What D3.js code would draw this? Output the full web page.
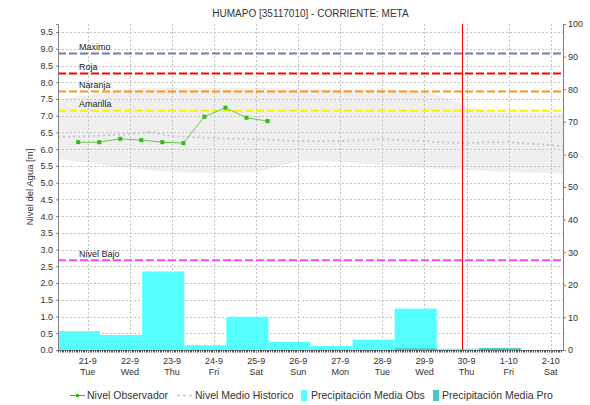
<!DOCTYPE html>
<html>
<head>
<meta charset="utf-8">
<script src="https://cdn.jsdelivr.net/npm/d3@7"></script>
<style>
  body { margin: 0; background: #fff; }
  svg { display: block; font-family: "Liberation Sans", Arial, sans-serif; }
</style>
</head>
<body>
<svg id="chart" width="590" height="405"></svg>
<script>
// ---- data ----
const chartTitle = "HUMAPO [35117010] - CORRIENTE: META";

// day ticks on the time axis
const dayTicks = ["2021-09-21", "2021-09-22", "2021-09-23", "2021-09-24", "2021-09-25", "2021-09-26",
                  "2021-09-27", "2021-09-28", "2021-09-29", "2021-09-30", "2021-10-01", "2021-10-02"];
const dayLabels = ["21-9", "22-9", "23-9", "24-9", "25-9", "26-9", "27-9", "28-9", "29-9", "30-9", "1-10", "2-10"];
const weekdayLabels = ["Tue", "Wed", "Thu", "Fri", "Sat", "Sun", "Mon", "Tue", "Wed", "Thu", "Fri", "Sat"];

// left axis (water level, m) and right axis (precipitation, mm)
const levelTicks = [0.0, 0.5, 1.0, 1.5, 2.0, 2.5, 3.0, 3.5, 4.0, 4.5, 5.0, 5.5, 6.0, 6.5, 7.0, 7.5, 8.0, 8.5, 9.0, 9.5];
const precipTicks = [0, 10, 20, 30, 40, 50, 60, 70, 80, 90, 100];

// observed water level
const obsTimes = ["2021-09-20T18:30", "2021-09-21T06:30", "2021-09-21T18:30", "2021-09-22T06:30", "2021-09-22T18:30",
                  "2021-09-23T06:30", "2021-09-23T18:30", "2021-09-24T06:30", "2021-09-24T18:30", "2021-09-25T06:30"];
const obsLevel = [6.21, 6.21, 6.31, 6.27, 6.21, 6.18, 6.97, 7.24, 6.94, 6.84];

// historic band (max / min) and historic mean level
const histTimes = ["2021-09-20T07:00", "2021-09-21T00:00", "2021-09-22T00:00", "2021-09-22T12:00", "2021-09-23T00:00",
                   "2021-09-24T00:00", "2021-09-25T00:00", "2021-09-25T12:00", "2021-09-26T00:00", "2021-09-26T12:00",
                   "2021-09-27T00:00", "2021-09-28T00:00", "2021-09-28T12:00", "2021-09-29T00:00", "2021-09-29T09:00",
                   "2021-09-30T00:00", "2021-09-30T14:00", "2021-10-01T00:00", "2021-10-02T00:00", "2021-10-02T07:00"];
const histUpper = [7.50, 7.62, 7.80, 7.83, 7.83, 7.83, 7.83, 7.83, 7.80, 7.80,
                   7.80, 7.80, 7.77, 7.71, 7.59, 7.29, 7.11, 7.08, 7.08, 7.08];
const histLower = [5.71, 5.59, 5.44, 5.38, 5.32, 5.29, 5.32, 5.47, 5.65, 5.65,
                   5.62, 5.53, 5.50, 5.44, 5.41, 5.38, 5.35, 5.32, 5.29, 5.26];
const histMean  = [6.36, 6.39, 6.45, 6.51, 6.39, 6.33, 6.30, 6.27, 6.24, 6.24,
                   6.24, 6.30, 6.27, 6.24, 6.21, 6.18, 6.21, 6.21, 6.12, 6.09];

// daily precipitation, each bar covering 07:00 to 07:00 of the next day
const precipStart = ["2021-09-20", "2021-09-21", "2021-09-22", "2021-09-23", "2021-09-24", "2021-09-25",
                     "2021-09-26", "2021-09-27", "2021-09-28", "2021-09-29", "2021-09-30", "2021-10-01"];
const precipObs = [5.8, 4.6, 24.1, 1.5, 10.2, 2.5, 1.2, 3.2, 12.7, 0.4, 0, 0];
const precipPro = [0, 0, 0, 0, 0, 0, 0, 0, 0.5, 0, 0.6, 0];

// alert thresholds (m)
const thresholdNames = ["Maximo", "Roja", "Naranja", "Amarilla", "Nivel Bajo"];
const thresholdLevels = [8.86, 8.26, 7.72, 7.15, 2.68];
const thresholdColors = ["#6e7fae", "#ff0000", "#ff9414", "#f4f400", "#ff44ff"];

const nowMark = "2021-09-29T21:15";
const xStart = "2021-09-20T07:00", xEnd = "2021-10-02T07:00";

const legendNames = ["Nivel Observador", "Nivel Medio Historico", "Precipitación Media Obs", "Precipitación Media Pro"];

// ---- layout ----
const parse = d3.timeParse("%Y-%m-%dT%H:%M");
const parseDay = d3.timeParse("%Y-%m-%d");
const plot = { left: 58, right: 563, top: 24, bottom: 350 };

const x = d3.scaleTime().domain([parse(xStart), parse(xEnd)]).range([plot.left, plot.right]);
const yL = d3.scaleLinear().domain([0, 9.74]).range([plot.bottom, plot.top]);
const yR = d3.scaleLinear().domain([0, 100]).range([plot.bottom, plot.top]);

const svg = d3.select("#chart");
svg.append("rect").attr("width", 590).attr("height", 405).attr("fill", "#fff");

svg.append("defs").append("clipPath").attr("id", "plotclip")
  .append("rect").attr("x", plot.left).attr("y", plot.top)
  .attr("width", plot.right - plot.left).attr("height", plot.bottom - plot.top);

const g = svg.append("g").attr("clip-path", "url(#plotclip)");

// historic band
const hist = histTimes.map((t, i) => ({ t: parse(t), hi: histUpper[i], lo: histLower[i], mean: histMean[i] }));
g.append("path").datum(hist)
  .attr("fill", "#efefef")
  .attr("d", d3.area().x(d => x(d.t)).y0(d => yL(d.lo)).y1(d => yL(d.hi)));

// grid
const grid = g.append("g").attr("stroke", "#c4c4c4").attr("stroke-width", 1).attr("stroke-dasharray", "2,2");
levelTicks.forEach(v => {
  grid.append("line").attr("x1", plot.left).attr("x2", plot.right)
    .attr("y1", Math.round(yL(v)) + 0.5).attr("y2", Math.round(yL(v)) + 0.5);
});
dayTicks.forEach(d => {
  const px = Math.round(x(parseDay(d))) + 0.5;
  grid.append("line").attr("x1", px).attr("x2", px).attr("y1", plot.top).attr("y2", plot.bottom);
});

// historic mean
g.append("path").datum(hist)
  .attr("fill", "none").attr("stroke", "#c8c8c8").attr("stroke-width", 2).attr("stroke-dasharray", "2,3")
  .attr("d", d3.line().x(d => x(d.t)).y(d => yL(d.mean)));

// precipitation bars
const bars = precipStart.map((d, i) => {
  const s = d3.timeHour.offset(parseDay(d), 7);
  return { s, e: d3.timeDay.offset(s, 1), obs: precipObs[i], pro: precipPro[i] };
});
g.selectAll("rect.obs").data(bars.filter(b => b.obs > 0)).join("rect").attr("class", "obs")
  .attr("x", b => x(b.s)).attr("width", b => x(b.e) - x(b.s))
  .attr("y", b => yR(b.obs)).attr("height", b => yR(0) - yR(b.obs))
  .attr("fill", "#55ffff");
g.selectAll("rect.pro").data(bars.filter(b => b.pro > 0)).join("rect").attr("class", "pro")
  .attr("x", b => x(b.s)).attr("width", b => x(b.e) - x(b.s))
  .attr("y", b => yR(b.pro)).attr("height", b => yR(0) - yR(b.pro))
  .attr("fill", "#44c8c8");

// thresholds
thresholdLevels.forEach((v, i) => {
  const py = yL(v);
  g.append("line").attr("x1", plot.left).attr("x2", plot.right).attr("y1", py).attr("y2", py)
    .attr("stroke", thresholdColors[i]).attr("stroke-width", 2).attr("stroke-dasharray", "8,3");
  svg.append("text").attr("x", 79).attr("y", py - 3.5)
    .attr("font-size", 9).attr("fill", "#222").text(thresholdNames[i]);
});

// observed level
const obs = obsTimes.map((t, i) => ({ t: parse(t), v: obsLevel[i] }));
g.append("path").datum(obs)
  .attr("fill", "none").attr("stroke", "#66cc44").attr("stroke-width", 1)
  .attr("d", d3.line().x(d => x(d.t)).y(d => yL(d.v)));
g.selectAll("rect.pt").data(obs).join("rect").attr("class", "pt")
  .attr("x", d => x(d.t) - 2).attr("y", d => yL(d.v) - 2)
  .attr("width", 4).attr("height", 4).attr("fill", "#33bb11");

// current time marker
const nx = Math.round(x(parse(nowMark))) + 0.5;
g.append("line").attr("x1", nx).attr("x2", nx).attr("y1", plot.top).attr("y2", plot.bottom)
  .attr("stroke", "#ff0000").attr("stroke-width", 1);

// ---- axes ----
const axisColor = "#808080";
const leftAxis = svg.append("g").attr("transform", `translate(${plot.left},0)`)
  .call(d3.axisLeft(yL).tickValues(levelTicks).tickFormat(d3.format(".1f")).tickSize(2).tickPadding(3));
const rightAxis = svg.append("g").attr("transform", `translate(${plot.right},0)`)
  .call(d3.axisRight(yR).tickValues(precipTicks).tickFormat(d3.format("d")).tickSize(3).tickPadding(2));
[leftAxis, rightAxis].forEach(a => {
  a.select(".domain").attr("stroke", axisColor);
  a.selectAll(".tick line").attr("stroke", axisColor);
  a.selectAll("text").attr("font-size", 9).attr("fill", "#333").attr("font-family", "Liberation Sans, Arial, sans-serif");
});

// bottom axis with hourly minor ticks
const bottom = svg.append("g");
bottom.append("line").attr("x1", plot.left).attr("x2", plot.right)
  .attr("y1", plot.bottom + 0.5).attr("y2", plot.bottom + 0.5).attr("stroke", axisColor);
const hours = d3.timeHour.every(1).range(parse(xStart), parse(xEnd));
bottom.selectAll("line.minor").data(hours).join("line").attr("class", "minor")
  .attr("x1", d => Math.round(x(d)) + 0.5).attr("x2", d => Math.round(x(d)) + 0.5)
  .attr("y1", plot.bottom).attr("y2", plot.bottom + 2.5).attr("stroke", "#555");
dayTicks.forEach((d, i) => {
  const px = x(parseDay(d));
  bottom.append("line").attr("x1", Math.round(px) + 0.5).attr("x2", Math.round(px) + 0.5)
    .attr("y1", plot.bottom).attr("y2", plot.bottom + 3).attr("stroke", axisColor);
  const t = bottom.append("text").attr("text-anchor", "middle").attr("font-size", 9).attr("fill", "#333");
  t.append("tspan").attr("x", px).attr("y", 363.5).text(dayLabels[i]);
  t.append("tspan").attr("x", px).attr("y", 374.5).text(weekdayLabels[i]);
});

// axis title
svg.append("text").attr("transform", `translate(33,${(plot.top + plot.bottom) / 2}) rotate(-90)`)
  .attr("text-anchor", "middle").attr("font-size", 9.5).attr("fill", "#333").text("Nivel del Agua [m]");

// chart title
svg.append("text").attr("x", (plot.left + plot.right) / 2).attr("y", 17)
  .attr("text-anchor", "middle").attr("font-size", 10).attr("fill", "#333").text(chartTitle);

// ---- legend ----
const leg = svg.append("g").attr("font-size", 10.5).attr("fill", "#333");
const ly = 395;
leg.append("line").attr("x1", 70).attr("x2", 85).attr("y1", ly + 0.5).attr("y2", ly + 0.5)
  .attr("stroke", "#44bb22").attr("stroke-width", 1);
leg.append("rect").attr("x", 76).attr("y", ly - 1).attr("width", 3).attr("height", 3).attr("fill", "#33bb11");
leg.append("text").attr("x", 87).attr("y", ly + 4).text(legendNames[0]);
leg.append("line").attr("x1", 177).attr("x2", 192).attr("y1", ly + 0.5).attr("y2", ly + 0.5)
  .attr("stroke", "#c4c4c4").attr("stroke-width", 1.5).attr("stroke-dasharray", "3,3");
leg.append("text").attr("x", 195).attr("y", ly + 4).text(legendNames[1]);
leg.append("rect").attr("x", 301).attr("y", ly - 5).attr("width", 6).attr("height", 11).attr("fill", "#55ffff");
leg.append("text").attr("x", 311).attr("y", ly + 4).text(legendNames[2]);
leg.append("rect").attr("x", 433).attr("y", ly - 5).attr("width", 6).attr("height", 11).attr("fill", "#44c8c8");
leg.append("text").attr("x", 442).attr("y", ly + 4).text(legendNames[3]);
</script>
</body>
</html>
